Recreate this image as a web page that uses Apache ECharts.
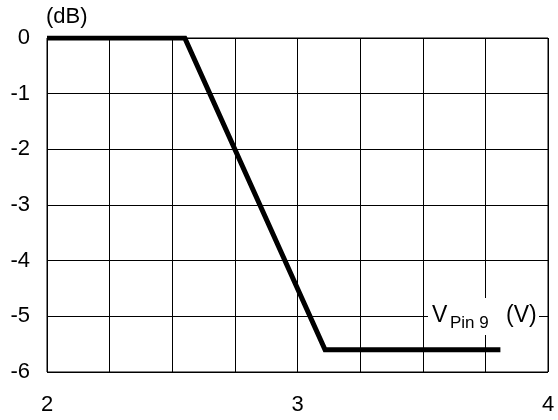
<!DOCTYPE html>
<html>
<head>
<meta charset="utf-8">
<script src="https://cdn.jsdelivr.net/npm/echarts@6/dist/echarts.min.js"></script>
<style>html,body{margin:0;padding:0;background:#fff;}#c{width:558px;height:420px;}</style>
</head>
<body>
<div id="c"></div>
<script>
var voltage = [2, 2.55, 3.11, 3.81];
var gainDb = [0, 0, -5.6, -5.6];
var xTickLabels = [2, 3, 4];
var yTickLabels = [0, -1, -2, -3, -4, -5, -6];
var yAxisTitle = '(dB)';
var xAxisName = 'V';
var xAxisSub = 'Pin 9';
var xAxisUnit = '(V)';

var font = '"Liberation Sans", Arial, sans-serif';
var chart = echarts.init(document.getElementById('c'), null, {renderer: 'canvas'});
var lineData = voltage.map(function (v, i) { return [v, gainDb[i]]; });

chart.setOption({
  animation: false,
  backgroundColor: '#fff',
  grid: {left: 47, right: 10, top: 38, bottom: 48, show: true, borderColor: '#000', borderWidth: 1},
  xAxis: {
    type: 'value', min: 2, max: 4, interval: 0.25,
    axisLine: {show: false}, axisTick: {show: false},
    splitLine: {show: true, lineStyle: {color: '#000', width: 1}},
    axisLabel: {
      fontFamily: 'Liberation Sans', fontSize: 22, color: '#000', margin: 22,
      formatter: function (v) { return xTickLabels.indexOf(v) >= 0 ? String(v) : ''; }
    }
  },
  yAxis: {
    type: 'value', min: -6, max: 0, interval: 1,
    axisLine: {show: false}, axisTick: {show: false},
    splitLine: {show: true, lineStyle: {color: '#000', width: 1}},
    axisLabel: {
      fontFamily: 'Liberation Sans', fontSize: 22, color: '#000', margin: 17,
      formatter: function (v) { return yTickLabels.indexOf(v) >= 0 ? String(v) : ''; }
    }
  },
  series: [{
    type: 'line', data: lineData, symbol: 'none',
    lineStyle: {color: '#000', width: 5, cap: 'butt', join: 'miter'}
  }],
  graphic: [
    {type: 'text', left: 46, top: 6, style: {text: yAxisTitle, font: '22px ' + font, fill: '#000'}},
    {type: 'rect', shape: {x: 428, y: 298, width: 111, height: 37}, style: {fill: '#fff'}, z: 100},
    {type: 'text', x: 432, y: 304, z: 101, style: {text: xAxisName, font: '23px ' + font, fill: '#000'}},
    {type: 'text', x: 450, y: 315, z: 101, style: {text: xAxisSub, font: '17px ' + font, fill: '#000'}},
    {type: 'text', x: 506, y: 304, z: 101, style: {text: xAxisUnit, font: '23px ' + font, fill: '#000'}}
  ]
});
</script>
</body>
</html>
